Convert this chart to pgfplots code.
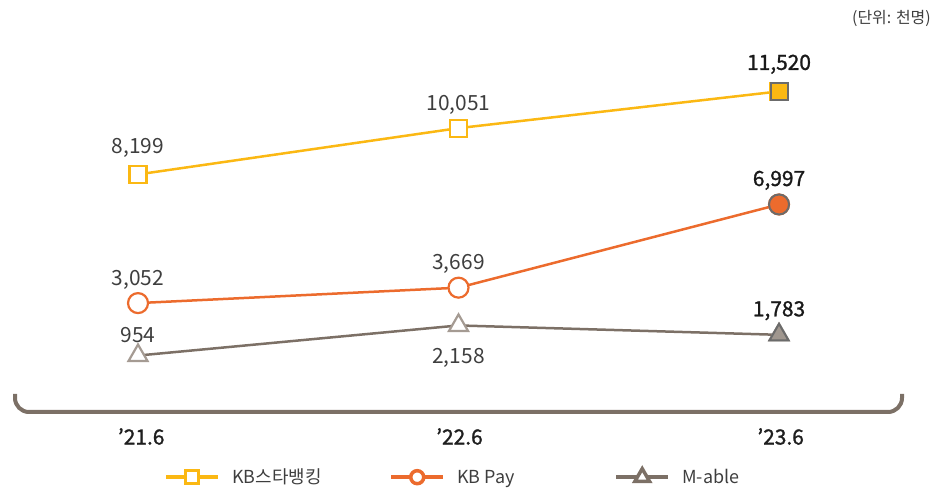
\documentclass[border=0pt]{standalone}
\usepackage{pgfplots}
\pgfplotsset{compat=1.18}
\usepackage{fontspec}
\setmainfont{Noto Sans CJK KR}
\newfontfamily\medfont{Noto Sans CJK KR}[FakeBold=1.2]
\definecolor{kbyel}{HTML}{FBB813}
\definecolor{kborg}{HTML}{EC6B2D}
\definecolor{kbgry}{HTML}{7C7066}
\definecolor{kbtri}{HTML}{A59B93}
\definecolor{kbtrif}{HTML}{A0978F}
\definecolor{kbout}{HTML}{6B6B6B}
\definecolor{lbl}{HTML}{3E3E3E}
\begin{document}
\begin{tikzpicture}
\begin{axis}[
  scale only axis, width=940bp, height=490bp,
  xmin=-0.4306, xmax=2.5023, ymin=-4424, ymax=15176,
  hide axis, clip=false,
  legend columns=3,
  legend image code/.code={\draw[mark repeat=2,mark phase=2,#1] plot coordinates {(0bp,0bp)(26bp,0bp)(52bp,0bp)};},
  legend style={at={(axis description cs:0.1745,0.0265)}, anchor=west, draw=none, fill=none, inner sep=0pt,
    font=\fontsize{18}{20}\selectfont, text=lbl,
    nodes={inner sep=0pt}, column sep=12bp},
]
\addlegendimage{kbyel, line width=4bp, mark=square*, mark size=6.5bp, mark options={fill=white, draw=kbyel, line width=3.5bp}}
\addlegendentry{\makebox[145bp][l]{KB스타뱅킹}}
\addlegendimage{kborg, line width=4bp, mark=*, mark size=6.5bp, mark options={fill=white, draw=kborg, line width=3.5bp}}
\addlegendentry{\makebox[145bp][l]{KB Pay}}
\addlegendimage{kbgry, line width=4bp, mark=triangle*, mark size=8.5bp, mark options={fill=white, draw=kbgry, line width=3.5bp}}
\addlegendentry{M-able}

\addplot[forget plot, kbyel, line width=2.5bp, mark=square*, mark size=8.5bp, mark options={fill=white, draw=kbyel, line width=2.2bp}]
  coordinates {(0,8199)(1,10051)(2,11520)};
\addplot[forget plot, kborg, line width=2.5bp, mark=*, mark size=10bp, mark options={fill=white, draw=kborg, line width=2.2bp}]
  coordinates {(0,3052)(1,3669)(2,6997)};
\addplot[forget plot, kbgry, line width=2.5bp, mark=triangle*, mark size=11bp, mark options={fill=white, draw=kbtri, line width=2.2bp}]
  coordinates {(0,954)(1,2158)(2,1783)};
\addplot[forget plot, only marks, mark=square*, mark size=8.5bp, mark options={fill=kbyel, draw=kbout, line width=2bp}] coordinates {(2,11520)};
\addplot[forget plot, only marks, mark=*, mark size=10bp, mark options={fill=kborg, draw=kbout, line width=2bp}] coordinates {(2,6997)};
\addplot[forget plot, only marks, mark=triangle*, mark size=11bp, mark options={fill=kbtrif, draw=kbout, line width=2bp}] coordinates {(2,1783)};

\begin{scope}[every node/.style={font=\fontsize{21}{24}\selectfont, text=lbl, anchor=base, inner sep=0pt}]
\node[yshift=20.5bp] at (axis cs:0,8199) {8,199};
\node[yshift=17.5bp] at (axis cs:1,10051) {10,051};
\node[yshift=21.5bp, text=black!90, font=\fontsize{21}{24}\medfont] at (axis cs:2,11520) {11,520};
\node[yshift=17.5bp] at (axis cs:0,3052) {3,052};
\node[yshift=18.5bp] at (axis cs:1,3669) {3,669};
\node[yshift=18.5bp, text=black!90, font=\fontsize{21}{24}\medfont] at (axis cs:2,6997) {6,997};
\node[yshift=13.5bp] at (axis cs:0,954) {954};
\node[yshift=-38.5bp] at (axis cs:1,2158) {2,158};
\node[yshift=18.5bp, text=black!90, font=\fontsize{21}{24}\medfont] at (axis cs:2,1783) {1,783};
\end{scope}
\begin{scope}[every node/.style={font=\fontsize{21}{24}\medfont, text=black!88, anchor=base, inner sep=0pt}]
\node at (axis cs:0.01,-2604) {’21.6};
\node at (axis cs:1.003,-2604) {’22.6};
\node at (axis cs:2.005,-2604) {’23.6};
\end{scope}
\end{axis}
\draw[kbgry, line width=4bp, rounded corners=14bp] (15bp,96bp) -- (15bp,78bp) -- (902bp,78bp) -- (902bp,96bp);
\node[anchor=east, inner sep=0pt, font=\fontsize{16}{18}\selectfont, text=lbl] at (931bp,472bp) {(단위: 천명)};
\path (0,0) rectangle (940bp,490bp);
\end{tikzpicture}
\end{document}
